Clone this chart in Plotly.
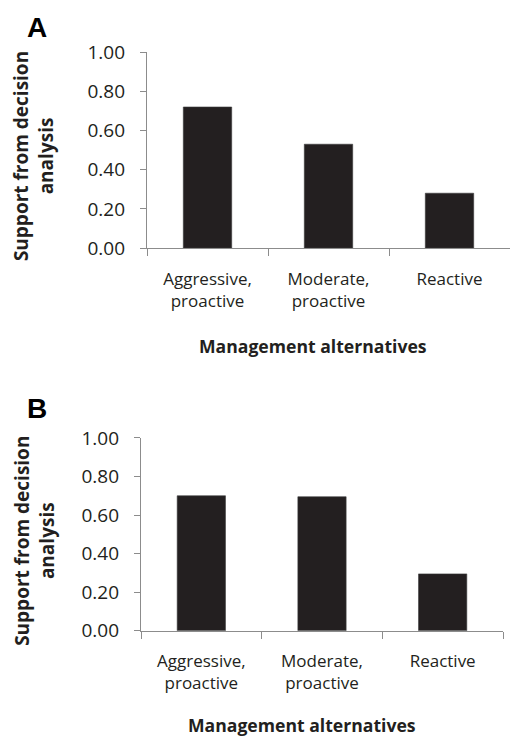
import plotly.graph_objects as go

categories = ["Aggressive,<br>proactive", "Moderate,<br>proactive", "Reactive"]
values_a = [0.72, 0.53, 0.28]
values_b = [0.70, 0.695, 0.295]
y_ticks = [0.0, 0.2, 0.4, 0.6, 0.8, 1.0]
panel_labels = ["A", "B"]
x_title = "Management alternatives"
y_title = "Support from decision<br>analysis"

W, H = 510, 740
BAR = "#231f20"
TXT = "#231f20"
AX = "#8c8c8c"
FONT = "Open Sans"

# the photographed page maps figure y to 13.8 + 0.9655*y, so place items accordingly
def px_x(p):
    return p / W

def px_y(p):
    f = (p - 13.8) / 0.9655
    return 1 - f / H

fig = go.Figure()
fig.add_trace(go.Bar(x=categories, y=values_a, width=0.4, marker=dict(color=BAR, line=dict(color="#3a3a3a", width=0.6)),
                     xaxis="x", yaxis="y", showlegend=False))
fig.add_trace(go.Bar(x=categories, y=values_b, width=0.4, marker=dict(color=BAR, line=dict(color="#3a3a3a", width=0.6)),
                     xaxis="x2", yaxis="y2", showlegend=False))

xcommon = dict(type="category", range=[-0.5, 2.5], showline=True, linecolor=AX, linewidth=1.2,
               ticks="outside", tickson="boundaries", ticklen=7, tickcolor=AX, tickwidth=1.2,
               showgrid=False, zeroline=False, tickfont=dict(family=FONT, size=17, color=TXT),
               ticklabelstandoff=15)
ycommon = dict(range=[0, 1], tickvals=y_ticks, tickformat=".2f", showline=True, linecolor=AX, linewidth=1.2,
               ticks="outside", ticklen=6, tickcolor=AX, tickwidth=1.2, showgrid=False, zeroline=False,
               tickfont=dict(family=FONT, size=19, color=TXT), ticklabelstandoff=11)

fig.update_layout(
    width=W, height=H, margin=dict(l=0, r=0, t=0, b=0),
    paper_bgcolor="white", plot_bgcolor="white",
    xaxis=dict(domain=[px_x(147), 1.0], anchor="y", **xcommon),
    yaxis=dict(domain=[px_y(249), px_y(53)], anchor="x", **ycommon),
    xaxis2=dict(domain=[px_x(141), px_x(503)], anchor="y2", **xcommon),
    yaxis2=dict(domain=[px_y(632), px_y(439)], anchor="x2", **ycommon),
)

annots = []
for lab, (cx, cy) in zip(panel_labels, [(37, 28), (37, 410)]):
    annots.append(dict(text=f"<b>{lab}</b>", x=px_x(cx), y=px_y(cy), xref="paper", yref="paper",
                       xanchor="center", yanchor="middle", showarrow=False,
                       font=dict(family="Liberation Sans", size=28, color="#000000")))
for (cx, cy) in [(313, 347), (302, 726)]:
    annots.append(dict(text=f"<b>{x_title}</b>", x=px_x(cx), y=px_y(cy), xref="paper", yref="paper",
                       xanchor="center", yanchor="middle", showarrow=False,
                       font=dict(family=FONT, size=17.6, color=TXT)))
for (cx, cy) in [(33, 157), (35, 542)]:
    annots.append(dict(text=f"<b>{y_title}</b>", x=px_x(cx), y=px_y(cy), xref="paper", yref="paper",
                       xanchor="center", yanchor="middle", showarrow=False, textangle=-90,
                       font=dict(family=FONT, size=19, color=TXT)))
fig.update_layout(annotations=annots)

post = (
    "document.body.style.margin='0';"
    "document.body.style.overflow='hidden';"
)
fig.write_html("out.html", config={"displayModeBar": False}, post_script=post)
